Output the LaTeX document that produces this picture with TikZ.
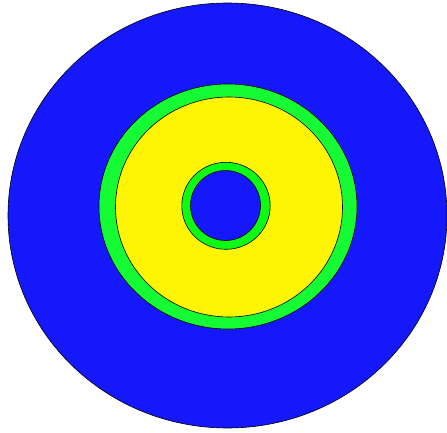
\documentclass[tikz,border=0pt]{standalone}
\usepackage{tikz}

\definecolor{discblue}{RGB}{20,24,250}
\definecolor{ringgreen}{RGB}{22,252,52}
\definecolor{coreyellow}{RGB}{255,244,4}
\definecolor{hubgreen}{RGB}{14,252,20}

\begin{document}
\begin{tikzpicture}[
    x=1pt, y=-1pt,
    ring/.style={draw=black, line width=0.6pt}
]
\useasboundingbox (0,0) rectangle (447,433);

% outer disc
\filldraw[ring, fill=discblue] (227.5,215.5) ellipse [x radius=219.5, y radius=212.5];
% green band and yellow core
\filldraw[ring, fill=ringgreen] (228,206.5) ellipse [x radius=129, y radius=122.5];
\filldraw[ring, fill=coreyellow] (229,207) ellipse [x radius=113.5, y radius=110];
% hub
\filldraw[ring, fill=hubgreen] (226,205.8) ellipse [x radius=44.2, y radius=43.5];
\filldraw[ring, fill=discblue] (225.5,205.5) ellipse [x radius=35, y radius=35];
\end{tikzpicture}
\end{document}
